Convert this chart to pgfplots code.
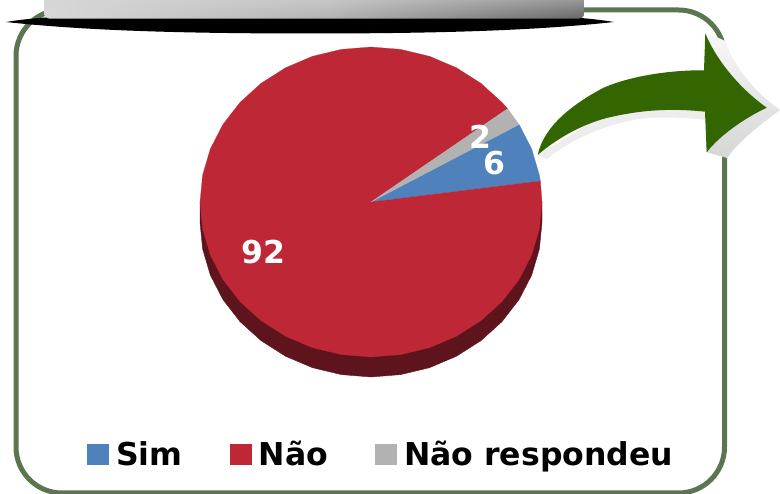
\documentclass[border=0pt]{standalone}
\usepackage{fontspec}
\setmainfont{DejaVu Sans}
\usepackage{pgfplots}
\usetikzlibrary{shadings}
\pgfplotsset{compat=1.18}
\definecolor{simblue}{HTML}{4F81BD}
\definecolor{naored}{HTML}{BE2735}
\definecolor{naodark}{HTML}{5E141C}
\definecolor{nrgray}{HTML}{B2B2B2}
\definecolor{frame}{HTML}{5A7550}
\definecolor{arrowgreen}{HTML}{336600}
\newcommand{\bigbold}{\fontsize{31.5}{31.5}\selectfont\bfseries}
\begin{document}
\begin{tikzpicture}
% decoration behind the chart, in pixels of the reference
\begin{scope}[x=1pt,y=-1pt,yshift=494pt]
  \draw[frame,line width=5pt,rounded corners=46pt] (16,10) rectangle (724.5,493);
  \fill[black] (6,22) .. controls (60,13) and (150,14) .. (310,14)
    .. controls (470,14) and (560,13) .. (614,22)
    .. controls (540,30) and (450,33.5) .. (310,33.5)
    .. controls (170,33.5) and (80,30) .. (6,22) -- cycle;
  \begin{scope}
    \clip[rounded corners=6pt] (44,-12) rectangle (584.5,18.7);
    \shade[upper left=white!84!black,lower left=white!85!black,upper right=white!78!black,lower right=white!70!black] (44,-1) rectangle (330,18.7);
    \shade[upper left=white!78!black,lower left=white!70!black,upper right=white!60!black,lower right=white!40!black] (330,-1) rectangle (584.5,18.7);
  \end{scope}
  % arrow shadow
  \shade[top color=white!97!black,bottom color=white!84!black]
    (705,33) .. controls (712,36) and (720,38) .. (725,41)
    .. controls (730,55) and (745,85) .. (780,110)
    .. controls (760,125) and (740,140) .. (727,158)
    -- (706,152) -- cycle;
  \fill[white!93!black] (537.7,155) -- (546.7,159.3)
    .. controls (560,148) and (590,128) .. (636.7,119.3)
    .. controls (660,116) and (690,118) .. (705,120) -- (705,110) -- (620,105) -- cycle;
  % arrow body
  \fill[arrowgreen] (537.7,155)
    .. controls (544,125) and (575,103) .. (603,88)
    .. controls (630,76) and (670,70) .. (704,70.3)
    -- (705.3,33.3)
    .. controls (714,55) and (735,85) .. (766.7,107.7)
    .. controls (745,118) and (720,135) .. (706.7,152.3)
    -- (705,111.7)
    .. controls (670,108) and (640,110) .. (606.7,118)
    .. controls (580,125) and (555,140) .. (537.7,155) -- cycle;
\end{scope}
\begin{axis}[
    hide axis,
    scale only axis,
    width=780pt,
    height=494pt,
    xmin=-371, xmax=409,
    ymin=-292, ymax=202,
    legend columns=3,
    legend style={
        draw=none,
        fill=none,
        font=\bigbold,
        at={(axis cs:10,-252.5)},
        anchor=center,
        /tikz/every even column/.append style={column sep=45pt},
        /tikz/every odd column/.append style={column sep=6pt},
    },
    legend image code/.code={\fill[#1] (0pt,-10pt) rectangle (21pt,10pt);},
]
% side of the pie
\addplot[fill=naodark,draw=naodark,forget plot] coordinates {
    (-171,0) (-171,-20) (-168.4,-46.9) (-160.7,-73) (-148.1,-97.5) (-131,-119.6)
    (-109.9,-138.7) (-85.5,-154.2) (-58.5,-165.7) (-29.7,-172.6) (0,-175)
    (29.7,-172.6) (58.5,-165.7) (85.5,-154.2) (109.9,-138.7) (131,-119.6)
    (148.1,-97.5) (160.7,-73) (168.4,-46.9) (171,-20) (171,0)
} --cycle;
% Sim, 6
\addplot[fill=simblue,draw=simblue,line width=0.2pt] coordinates {
    (0,0) (169.4,21) (168.4,26.9) (160.7,53) (148.1,77.5)
} --cycle;
% Nao, 92
\addplot[fill=naored,draw=naored,line width=0.2pt] coordinates {
    (0,0) (136.6,93.3) (131,99.6) (109.9,118.7) (85.5,134.2) (58.5,145.7) (29.7,152.6) (0,155)
    (-29.7,152.6) (-58.5,145.7) (-85.5,134.2) (-109.9,118.7) (-131,99.6)
    (-148.1,77.5) (-160.7,53) (-168.4,26.9) (-171,0)
    (-168.4,-26.9) (-160.7,-53) (-148.1,-77.5) (-131,-99.6) (-109.9,-118.7)
    (-85.5,-134.2) (-58.5,-145.7) (-29.7,-152.6) (0,-155)
    (29.7,-152.6) (58.5,-145.7) (85.5,-134.2) (109.9,-118.7) (131,-99.6)
    (148.1,-77.5) (160.7,-53) (168.4,-26.9) (171,0) (169.4,21)
} --cycle;
% Nao respondeu, 2
\addplot[fill=nrgray,draw=nrgray,line width=0.2pt] coordinates {
    (0,0) (148.1,77.5) (136.6,93.3)
} --cycle;
\node[white,font=\bigbold] at (axis cs:109,64.7) {2};
\node[white,font=\bigbold] at (axis cs:123,39) {6};
\node[white,font=\bigbold] at (axis cs:-107.7,-49.7) {92};
\legend{Sim,Não,Não respondeu}
\end{axis}
\pgfresetboundingbox
\path[use as bounding box] (0,0) rectangle (780pt,494pt);
\end{tikzpicture}
\end{document}
